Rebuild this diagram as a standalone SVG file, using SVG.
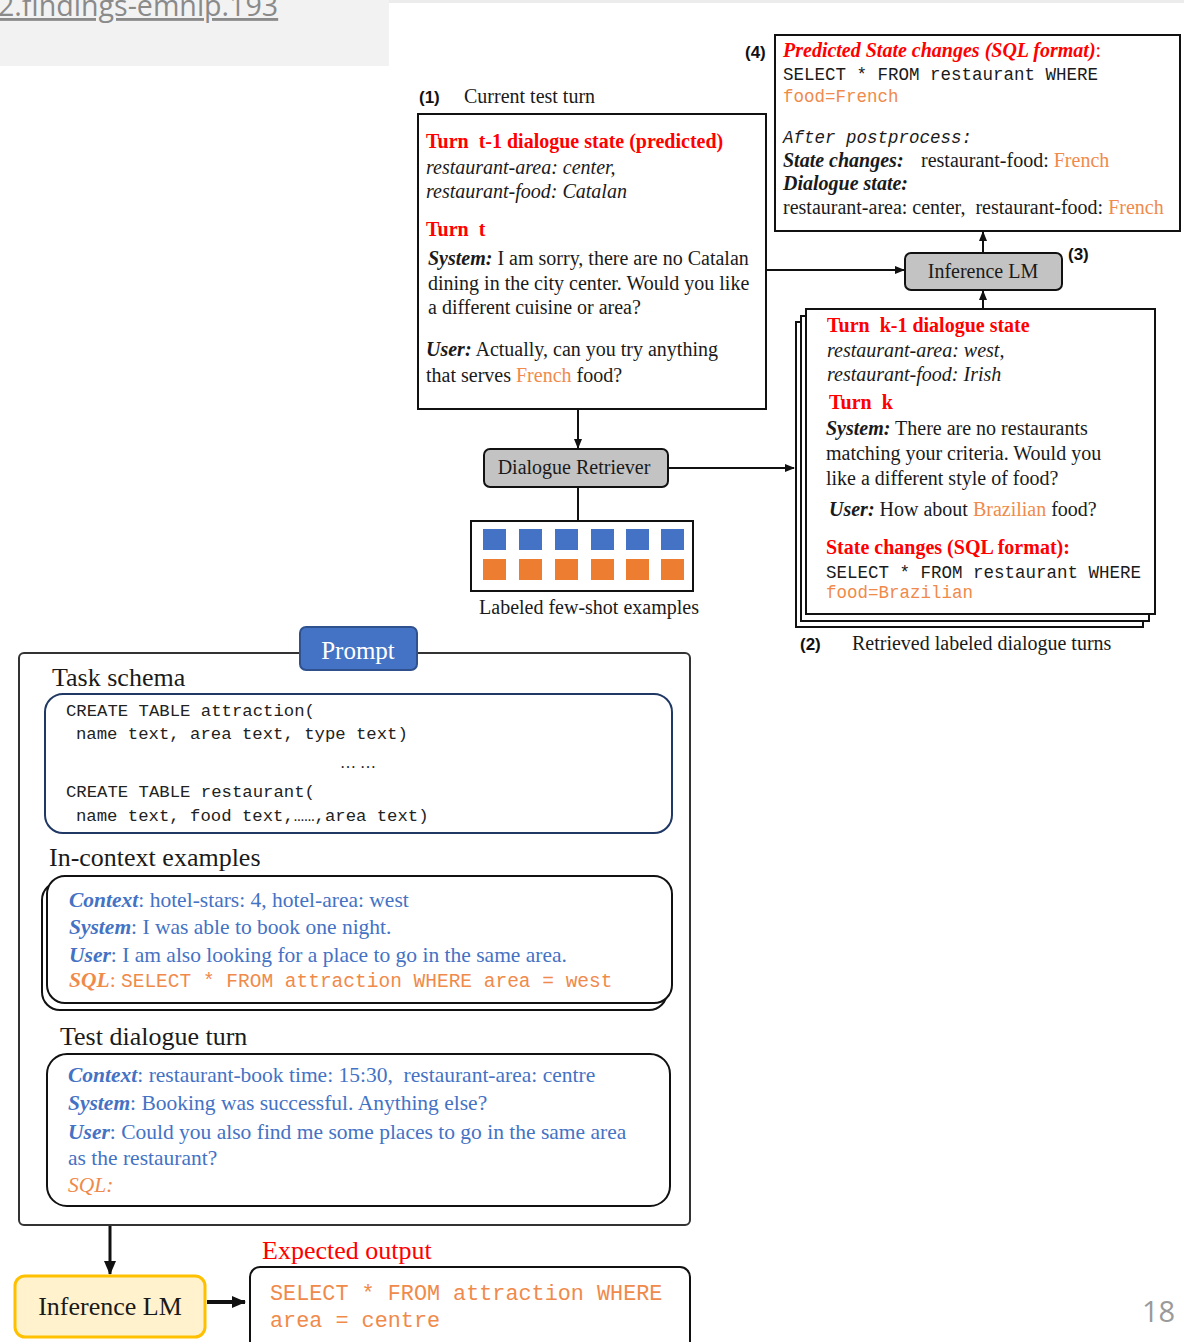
<svg xmlns="http://www.w3.org/2000/svg" width="1184" height="1342" viewBox="0 0 1184 1342">
<style>
.serif{font-family:"Liberation Serif","Times New Roman",serif;fill:#1a1a1a}
.s20{font-size:20px}
.s26{font-size:26px}
.mono{font-family:"Liberation Mono","Courier New",monospace}
.red{fill:#ff0000}
.or{fill:#f08a4b}
.blue{fill:#4472c4}
.b{font-weight:bold}
.i{font-style:italic}
.lab{font-family:"Liberation Sans",Arial,sans-serif;font-weight:bold;font-size:17px;fill:#111}
.box{fill:#fff;stroke:#111;stroke-width:2}
.gbox{fill:#c3c3c3;stroke:#111;stroke-width:2}
.conn{stroke:#111;stroke-width:2;fill:none}
.pre{white-space:pre}
</style>
<defs>
<marker id="ah" markerWidth="10" markerHeight="10" refX="9" refY="5" orient="auto" markerUnits="userSpaceOnUse">
<path d="M0,1 L10,5 L0,9 Z" fill="#111"/>
</marker>
<marker id="ahb" markerWidth="14" markerHeight="14" refX="13" refY="7" orient="auto" markerUnits="userSpaceOnUse">
<path d="M0,1 L14,7 L0,13 Z" fill="#111"/>
</marker>
</defs>
<rect width="1184" height="1342" fill="#fff"/>

<g id="header">
<rect x="0" y="0" width="389" height="66" fill="#f2f2f2"/>
<rect x="389" y="0" width="795" height="3" fill="#ececec"/>
<text x="-2" y="16" font-family="Open Sans, sans-serif" font-size="28.6" fill="#8a8a8a" text-decoration="underline">2.findings-emnlp.193</text>
</g>

<g id="connectors">
<line class="conn" x1="983" y1="253" x2="983" y2="232" marker-end="url(#ah)"/>
<line class="conn" x1="983" y1="309" x2="983" y2="291" marker-end="url(#ah)"/>
<line class="conn" x1="766" y1="270" x2="904" y2="270" marker-end="url(#ah)"/>
<line class="conn" x1="578" y1="409" x2="578" y2="448" marker-end="url(#ah)"/>
<line class="conn" x1="668" y1="468" x2="794" y2="468" marker-end="url(#ah)"/>
<line class="conn" x1="578" y1="487" x2="578" y2="521"/>
<line stroke="#111" stroke-width="3" x1="110" y1="1225" x2="110" y2="1274" marker-end="url(#ahb)"/>
<line stroke="#111" stroke-width="4" x1="207" y1="1302" x2="245" y2="1302" marker-end="url(#ahb)"/>
</g>

<g id="node-predicted">
<text class="lab" x="745" y="58">(4)</text>
<rect class="box" x="775" y="35" width="405" height="196"/>
<text class="serif s20" x="783" y="57"><tspan class="red b i">Predicted State changes (SQL format)</tspan><tspan class="red">:</tspan></text>
<text class="mono" font-size="17.5" fill="#1a1a1a" x="783" y="80">SELECT * FROM restaurant WHERE</text>
<text class="mono or" font-size="17.5" x="783" y="102">food=French</text>
<text class="mono i" font-size="17.5" fill="#1a1a1a" x="783" y="143">After postprocess:</text>
<text class="serif s20" x="783" y="167"><tspan class="b i">State changes:</tspan><tspan x="921">restaurant-food: </tspan><tspan class="or">French</tspan></text>
<text class="serif s20 b i" x="783" y="190">Dialogue state:</text>
<text class="serif s20 pre" x="783" y="214">restaurant-area: center,  restaurant-food: <tspan class="or">French</tspan></text>
</g>

<g id="node-current">
<text class="lab" x="419" y="103">(1)</text>
<text class="serif s20" x="464" y="103">Current test turn</text>
<rect class="box" x="418" y="114" width="348" height="295"/>
<text class="serif s20 red b pre" x="426" y="148">Turn  t-1 dialogue state (predicted)</text>
<text class="serif s20 i" x="426" y="174">restaurant-area: center,</text>
<text class="serif s20 i" x="426" y="198">restaurant-food: Catalan</text>
<text class="serif s20 red b pre" x="426" y="236">Turn  t</text>
<text class="serif s20" x="428" y="265"><tspan class="b i">System:</tspan> I am sorry, there are no Catalan</text>
<text class="serif s20" x="428" y="290">dining in the city center. Would you like</text>
<text class="serif s20" x="428" y="314">a different cuisine or area?</text>
<text class="serif s20" x="426" y="356"><tspan class="b i">User:</tspan> Actually, can you try anything</text>
<text class="serif s20" x="426" y="382">that serves <tspan class="or">French</tspan> food?</text>
</g>

<g id="node-inference-top">
<rect class="gbox" x="905" y="253" width="157" height="37" rx="6"/>
<text class="serif s20" x="983" y="278" text-anchor="middle">Inference LM</text>
<text class="lab" x="1068" y="260">(3)</text>
</g>

<g id="node-retrieved">
<rect class="box" x="796" y="322" width="347" height="305"/>
<rect class="box" x="801" y="316" width="348" height="305"/>
<rect class="box" x="806" y="309" width="349" height="305"/>
<text class="serif s20 red b pre" x="827" y="332">Turn  k-1 dialogue state</text>
<text class="serif s20 i" x="827" y="357">restaurant-area: west,</text>
<text class="serif s20 i" x="827" y="381">restaurant-food: Irish</text>
<text class="serif s20 red b pre" x="829" y="409">Turn  k</text>
<text class="serif s20" x="826" y="435"><tspan class="b i">System:</tspan> There are no restaurants</text>
<text class="serif s20" x="826" y="460">matching your criteria. Would you</text>
<text class="serif s20" x="826" y="485">like a different style of food?</text>
<text class="serif s20" x="829" y="516"><tspan class="b i">User:</tspan> How about <tspan class="or">Brazilian</tspan> food?</text>
<text class="serif s20 red b" x="826" y="554">State changes (SQL format):</text>
<text class="mono" font-size="17.5" fill="#1a1a1a" x="826" y="578">SELECT * FROM restaurant WHERE</text>
<text class="mono or" font-size="17.5" x="826" y="598">food=Brazilian</text>
<text class="lab" x="800" y="650">(2)</text>
<text class="serif s20" x="852" y="650">Retrieved labeled dialogue turns</text>
</g>

<g id="node-retriever">
<rect class="gbox" x="484" y="449" width="184" height="38" rx="6"/>
<text class="serif s20" x="574" y="474" text-anchor="middle">Dialogue Retriever</text>
</g>

<g id="node-examples">
<rect class="box" x="471" y="521" width="222" height="70"/>
<g fill="#4472c4">
<rect x="483" y="529" width="23" height="21"/><rect x="519" y="529" width="23" height="21"/><rect x="555" y="529" width="23" height="21"/><rect x="591" y="529" width="23" height="21"/><rect x="626" y="529" width="23" height="21"/><rect x="661" y="529" width="23" height="21"/>
</g>
<g fill="#ed7d31">
<rect x="483" y="559" width="23" height="21"/><rect x="519" y="559" width="23" height="21"/><rect x="555" y="559" width="23" height="21"/><rect x="591" y="559" width="23" height="21"/><rect x="626" y="559" width="23" height="21"/><rect x="661" y="559" width="23" height="21"/>
</g>
<text class="serif s20" x="589" y="614" text-anchor="middle">Labeled few-shot examples</text>
</g>

<g id="node-prompt">
<rect x="19" y="653" width="671" height="572" rx="5" fill="#fff" stroke="#333" stroke-width="2"/>
<rect x="300" y="627" width="117" height="43" rx="6" fill="#4472c4" stroke="#2f528f" stroke-width="2"/>
<text class="serif" font-size="25" x="358" y="659" text-anchor="middle" style="fill:#fff">Prompt</text>

<text class="serif s26" x="52" y="686">Task schema</text>
<rect x="45" y="694" width="627" height="139" rx="18" fill="#fff" stroke="#1f3864" stroke-width="2"/>
<text class="mono" font-size="17.3" fill="#222" x="66" y="716">CREATE TABLE attraction(</text>
<text class="mono" font-size="17.3" fill="#222" x="76" y="739">name text, area text, type text)</text>
<text class="serif" font-size="16" x="340" y="768">… …</text>
<text class="mono" font-size="17.3" fill="#222" x="66" y="797">CREATE TABLE restaurant(</text>
<text class="mono" font-size="17.3" fill="#222" x="76" y="821">name text, food text,……,area text)</text>

<text class="serif s26" x="49" y="866">In-context examples</text>
<rect x="42" y="882" width="625" height="128" rx="18" fill="#fff" stroke="#111" stroke-width="2"/>
<rect x="47" y="876" width="625" height="127" rx="18" fill="#fff" stroke="#111" stroke-width="2"/>
<text class="serif" font-size="21.5" x="69" y="907" style="fill:#4472c4"><tspan class="b i">Context</tspan>: hotel-stars: 4, hotel-area: west</text>
<text class="serif" font-size="21.5" x="69" y="934" style="fill:#4472c4"><tspan class="b i">System</tspan>: I was able to book one night.</text>
<text class="serif" font-size="21.5" x="69" y="962" style="fill:#4472c4"><tspan class="b i">User</tspan>: I am also looking for a place to go in the same area.</text>
<text class="serif" font-size="21.5" x="69" y="987" style="fill:#f08a4b"><tspan class="b i">SQL</tspan>: <tspan class="mono" font-size="19.5">SELECT * FROM attraction WHERE area = west</tspan></text>

<text class="serif s26" x="60" y="1045">Test dialogue turn</text>
<rect x="47" y="1054" width="623" height="152" rx="20" fill="#fff" stroke="#111" stroke-width="2"/>
<text class="serif" font-size="21.5" x="68" y="1082" style="fill:#4472c4;white-space:pre"><tspan class="b i">Context</tspan>: restaurant-book time: 15:30,  restaurant-area: centre</text>
<text class="serif" font-size="21.5" x="68" y="1110" style="fill:#4472c4"><tspan class="b i">System</tspan>: Booking was successful. Anything else?</text>
<text class="serif" font-size="21.5" x="68" y="1139" style="fill:#4472c4"><tspan class="b i">User</tspan>: Could you also find me some places to go in the same area</text>
<text class="serif" font-size="21.5" x="68" y="1165" style="fill:#4472c4">as the restaurant?</text>
<text class="serif i" font-size="21.5" x="68" y="1192" style="fill:#f08a4b">SQL:</text>
</g>

<g id="node-inference-bottom">
<rect x="15" y="1276" width="190" height="61" rx="10" fill="#fff2cc" stroke="#ffc000" stroke-width="3"/>
<text class="serif s26" x="110" y="1315" text-anchor="middle">Inference LM</text>
</g>

<g id="node-expected">
<text class="serif s26" x="262" y="1259" style="fill:#ff0000">Expected output</text>
<rect x="250" y="1267" width="440" height="90" rx="10" fill="#fff" stroke="#111" stroke-width="2"/>
<text class="mono" font-size="21.8" x="270" y="1300" style="fill:#f08a4b">SELECT * FROM attraction WHERE</text>
<text class="mono" font-size="21.8" x="270" y="1327" style="fill:#f08a4b">area = centre</text>
</g>

<g id="page-number">
<text x="1142" y="1322" font-family="Open Sans, sans-serif" font-size="29" fill="#9a9a9a">18</text>
</g>
</svg>
